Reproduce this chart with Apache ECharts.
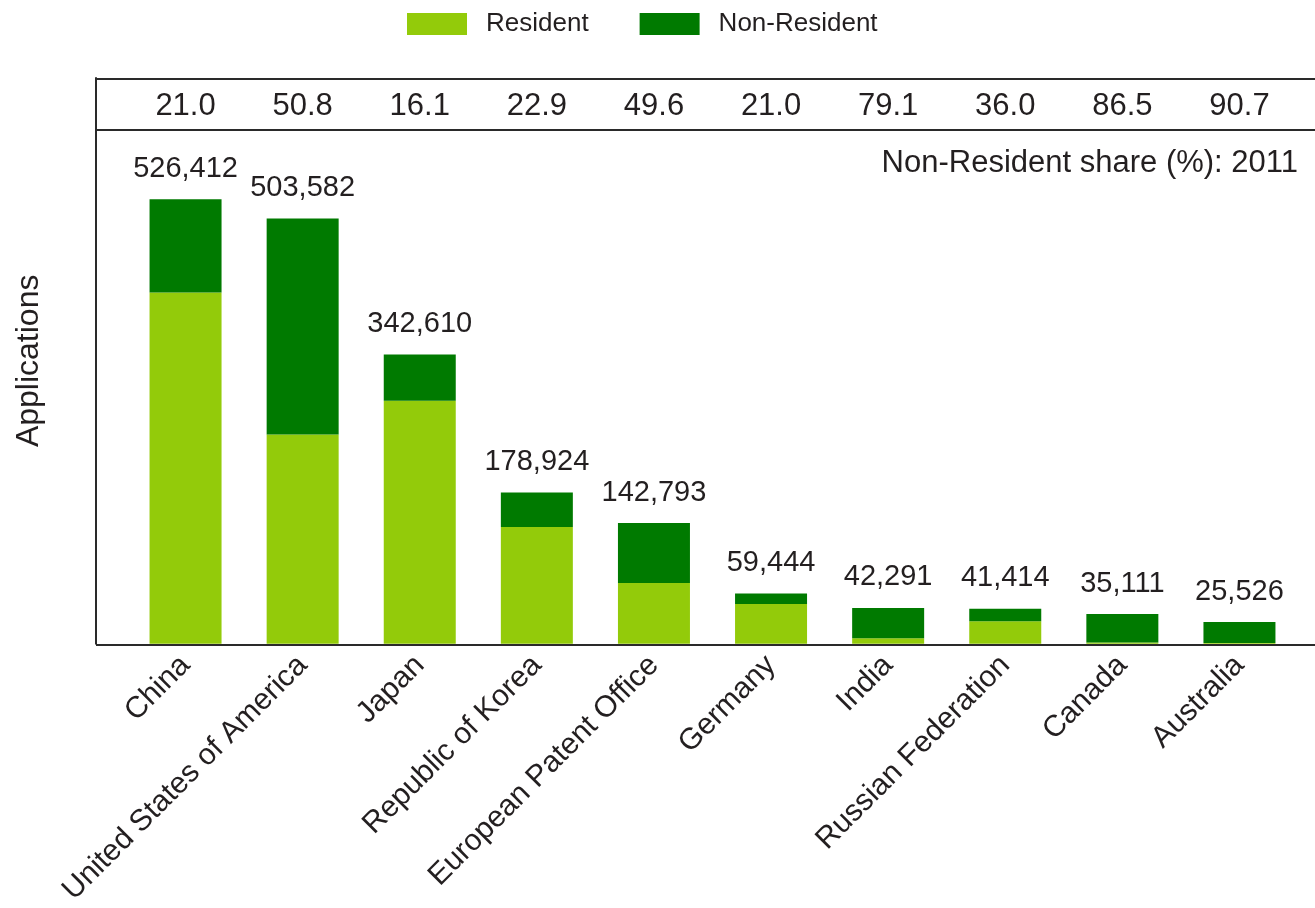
<!DOCTYPE html>
<html>
<head>
<meta charset="utf-8">
<script src="https://cdn.jsdelivr.net/npm/echarts@6/dist/echarts.min.js"></script>
<style>
  html, body { margin: 0; padding: 0; background: #fff; }
  #chart { width: 1315px; height: 908px; }
</style>
</head>
<body>
<div id="chart"></div>
<script>
const categories = ['China', 'United States of America', 'Japan', 'Republic of Korea', 'European Patent Office',
  'Germany', 'India', 'Russian Federation', 'Canada', 'Australia']
const totals = [526412, 503582, 342610, 178924, 142793, 59444, 42291, 41414, 35111, 25526]
const resident = [415829, 247750, 287580, 138034, 71960, 46986, 6500, 26495, 1500, 800]
const nonResident = [110583, 255832, 55030, 40890, 70833, 12458, 35791, 14919, 33611, 24726]
const shares = ['21.0', '50.8', '16.1', '22.9', '49.6', '21.0', '79.1', '36.0', '86.5', '90.7']

const font = 'Liberation Sans'
const textColor = '#231f20'
const lineColor = '#2a2a2a'

const chart = echarts.init(document.getElementById('chart'))

chart.setOption({
  animation: false,
  textStyle: { fontFamily: font },
  title: {
    text: 'Non-Resident share (%): 2011',
    right: 17,
    top: 148,
    padding: 0,
    textStyle: { fontFamily: font, fontWeight: 'normal', fontSize: 31, color: textColor }
  },
  legend: {
    left: 407,
    top: 11,
    padding: 0,
    itemWidth: 60,
    itemHeight: 22,
    itemGap: 51,
    icon: 'rect',
    textStyle: { fontFamily: font, fontSize: 26, color: textColor, padding: [0, 0, 0, 14] },
    data: ['Resident', 'Non-Resident']
  },
  grid: { left: 127, right: 17, top: 78, bottom: 263 },
  xAxis: [
    {
      type: 'category',
      data: categories,
      axisLine: { show: false },
      axisTick: { show: false },
      axisLabel: {
        rotate: 45,
        margin: 17,
        interval: 0,
        fontSize: 30,
        color: textColor
      }
    },
    {
      // non-resident share strip along the top
      type: 'category',
      position: 'top',
      data: categories,
      axisLine: { show: false },
      axisTick: { show: false },
      axisLabel: {
        inside: true,
        margin: 13,
        interval: 0,
        fontSize: 31,
        color: textColor,
        formatter: (v, i) => shares[i]
      }
    }
  ],
  yAxis: {
    type: 'value',
    min: 0,
    max: 670000,
    offset: 31,
    name: 'Applications',
    nameLocation: 'middle',
    nameGap: 51,
    nameTextStyle: { fontFamily: font, fontSize: 32, color: textColor },
    axisLine: { show: true, lineStyle: { color: lineColor, width: 2 } },
    axisTick: { show: false },
    axisLabel: { show: false },
    splitLine: { show: false }
  },
  series: [
    {
      name: 'Resident',
      type: 'bar',
      stack: 'total',
      barWidth: 72,
      itemStyle: { color: '#93cb0a' },
      data: resident
    },
    {
      name: 'Non-Resident',
      type: 'bar',
      stack: 'total',
      barWidth: 72,
      itemStyle: { color: '#007a00' },
      label: {
        show: true,
        position: 'top',
        distance: 16,
        fontSize: 29,
        color: textColor,
        formatter: p => totals[p.dataIndex].toLocaleString('en-US')
      },
      data: nonResident
    }
  ],
  graphic: [
    { type: 'line', shape: { x1: 96, y1: 79, x2: 1315, y2: 79 }, style: { stroke: lineColor, lineWidth: 2 } },
    { type: 'line', shape: { x1: 96, y1: 130, x2: 1315, y2: 130 }, style: { stroke: lineColor, lineWidth: 2 } },
    { type: 'line', shape: { x1: 96, y1: 645, x2: 1315, y2: 645 }, style: { stroke: lineColor, lineWidth: 2 } }
  ]
})
</script>
</body>
</html>
